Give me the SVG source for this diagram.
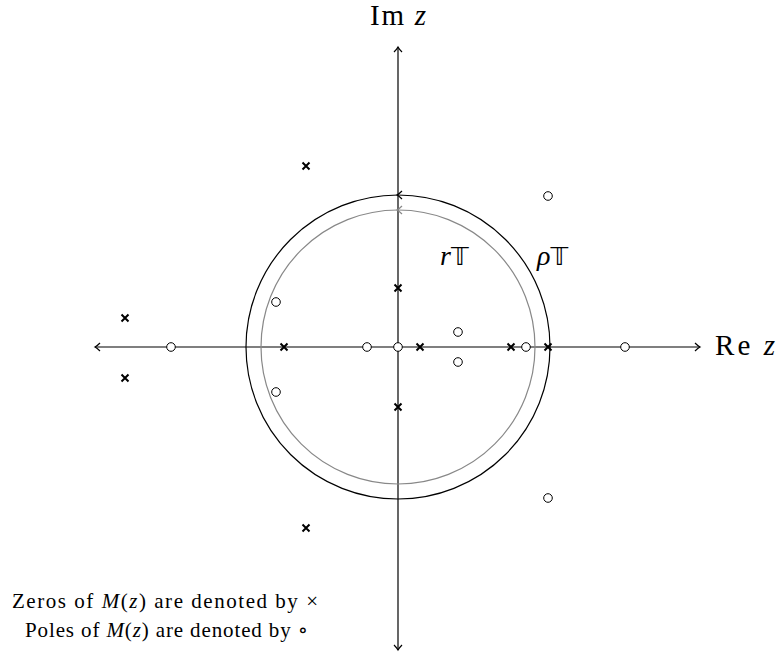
<svg xmlns="http://www.w3.org/2000/svg" width="778" height="653" viewBox="0 0 778 653">
<style>
.ax{stroke:#000;stroke-width:1.2;fill:none}
.outer{stroke:#000;stroke-width:1.2;fill:none}
.inner{stroke:#888;stroke-width:1.2;fill:none}
.zero{stroke:#000;stroke-width:2;fill:none}
.pole{stroke:#000;stroke-width:1;fill:#fff}
.t{font-family:"Liberation Serif","DejaVu Serif",serif;fill:#000}
.i{font-style:italic}
.ds{font-family:"DejaVu Sans","Noto Sans",sans-serif;font-style:normal}
</style>
<defs>
<g id="x"><path class="zero" d="M-3.5,-3.5L3.5,3.5M-3.5,3.5L3.5,-3.5"/></g>
<g id="o"><circle class="pole" r="4.3"/></g>
</defs>
<g id="connectors">
<path class="ax" d="M95,347H700"/>
<path class="ax" d="M100,343Q97,346 95,347Q97,348 100,351"/>
<path class="ax" d="M695,343Q698,346 700,347Q698,348 695,351"/>
<path class="ax" d="M398,47V650"/>
<path class="ax" d="M394,52Q397,49 398,47Q399,49 402,52"/>
<path class="ax" d="M394,645Q397,648 398,650Q399,648 402,645"/>
</g>
<g id="circle-rho">
<circle class="outer" cx="398" cy="347" r="152"/>
<path class="outer" d="M402,191Q399,194 397,195Q399,196 402,199"/>
</g>
<g id="circle-r">
<circle class="inner" cx="398" cy="347" r="137"/>
<path class="inner" d="M402,206Q399,209 397,210Q399,211 402,214"/>
</g>
<g id="zeros">
<use href="#x" x="306" y="166"/>
<use href="#x" x="125" y="318"/>
<use href="#x" x="125" y="378"/>
<use href="#x" x="306" y="528"/>
<use href="#x" x="398" y="288"/>
<use href="#x" x="398" y="407"/>
<use href="#x" x="284" y="347"/>
<use href="#x" x="420" y="347"/>
<use href="#x" x="511" y="347"/>
<use href="#x" x="548" y="347"/>
</g>
<g id="poles">
<use href="#o" x="548" y="196"/>
<use href="#o" x="548" y="498"/>
<use href="#o" x="276" y="302"/>
<use href="#o" x="276" y="392"/>
<use href="#o" x="171" y="347"/>
<use href="#o" x="367" y="347"/>
<use href="#o" x="398" y="347"/>
<use href="#o" x="458" y="332"/>
<use href="#o" x="458" y="362"/>
<use href="#o" x="526" y="347"/>
<use href="#o" x="625" y="347"/>
</g>
<g id="label-im"><text class="t" x="370" y="25" font-size="29" textLength="56" lengthAdjust="spacing">Im <tspan class="i">z</tspan></text></g>
<g id="label-re"><text class="t" x="715" y="355" font-size="29" textLength="60" lengthAdjust="spacing">Re <tspan class="i">z</tspan></text></g>
<g id="label-r"><text class="t" x="440" y="265" font-size="28"><tspan class="i">r</tspan><tspan class="ds" font-size="25">𝕋</tspan></text></g>
<g id="label-rho"><text class="t" x="537" y="265" font-size="28"><tspan class="i">ρ</tspan><tspan class="ds" font-size="25">𝕋</tspan></text></g>
<g id="legend">
<text class="t" x="12" y="608" font-size="21" textLength="306" lengthAdjust="spacing">Zeros of <tspan class="i">M</tspan>(<tspan class="i">z</tspan>) are denoted by ×</text>
<text class="t" x="25" y="637" font-size="21" textLength="283" lengthAdjust="spacing">Poles of <tspan class="i">M</tspan>(<tspan class="i">z</tspan>) are denoted by ∘</text>
</g>
</svg>
